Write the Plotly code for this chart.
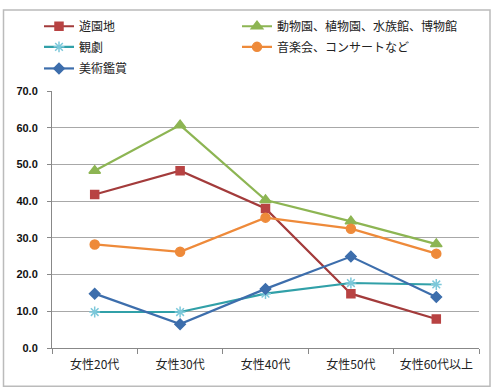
import plotly.graph_objects as go

categories = ["女性20代", "女性30代", "女性40代", "女性50代", "女性60代以上"]
yuenchi = [41.8, 48.3, 38.0, 14.8, 7.9]
doubutsuen = [48.3, 60.7, 40.3, 34.5, 28.3]
kangeki = [9.8, 9.8, 14.8, 17.7, 17.3]
ongakukai = [28.2, 26.2, 35.5, 32.5, 25.7]
bijutsu = [14.8, 6.5, 16.1, 24.9, 13.9]

L, R, T, B = 52, 15, 86, 43
pw, ph = 494 - L - R, 391 - T - B

def px_x(p):
    return (p - L) / pw

def px_y(p):
    return (391 - B - p) / ph

# (name, values, line colour, marker colour, symbol, size, legend id, legend text x, legend row y)
series = [
    ("遊園地", yuenchi, "#A33B3B", "#B84343", "square", 8, "legend", 79, 20),
    ("動物園、植物園、水族館、博物館", doubutsuen, "#8DB553", "#8DB553", "triangle-up", 10, "legend2", 277, 20),
    ("観劇", kangeki, "#31A0A8", "#7CC8DA", "asterisk-open", 9, "legend3", 79, 41),
    ("音楽会、コンサートなど", ongakukai, "#EE8A3A", "#EE8A3A", "circle", 9, "legend4", 277, 41),
    ("美術鑑賞", bijutsu, "#3D6EAC", "#3D6EAC", "diamond", 8, "legend5", 79, 63),
]

fig = go.Figure()
legends = {}
for name, vals, lc, mc, sym, sz, lg, tx, ty in series:
    fig.add_trace(go.Scatter(
        x=categories, y=vals, name=name, mode="lines+markers", legend=lg,
        line=dict(color=lc, width=2.2),
        marker=dict(symbol=sym, size=sz, color=mc, line=dict(color=mc, width=1.5)),
    ))
    legends[lg] = dict(orientation="v", x=px_x(tx - 40), xanchor="left",
                       y=px_y(ty), yanchor="middle",
                       font=dict(size=12, color="#222"), itemwidth=30,
                       bgcolor="rgba(0,0,0,0)")

fig.add_shape(type="rect", xref="paper", yref="paper", layer="above",
              x0=px_x(3.5), x1=px_x(490), y0=px_y(387), y1=px_y(3.5),
              line=dict(color="#BBBBBB", width=1.5), fillcolor="rgba(0,0,0,0)")

fig.update_layout(
    width=494, height=391,
    margin=dict(l=L, r=R, t=T, b=B),
    paper_bgcolor="white", plot_bgcolor="white",
    font=dict(family="Noto Sans CJK JP, sans-serif", size=12, color="#222"),
    showlegend=True,
    xaxis=dict(type="category", range=[-0.5, 4.5], tickson="boundaries",
               ticks="outside", ticklen=5, tickcolor="#888", showline=True,
               linecolor="#888", linewidth=1, showgrid=False, ticklabelstandoff=6,
               tickfont=dict(size=12, color="#222")),
    yaxis=dict(range=[0, 70], dtick=10, tickformat=".1f", ticks="outside",
               ticklen=4, tickcolor="#888", showline=True, linecolor="#888",
               linewidth=1, showgrid=True, gridcolor="#A8A8A8", gridwidth=1,
               zeroline=False, ticklabelstandoff=7,
               tickfont=dict(family="Liberation Sans", size=11, weight="bold", color="#111")),
    **legends,
)

fig.write_html("out.html", config={"displayModeBar": False},
               post_script="document.body.style.margin='0px';")
